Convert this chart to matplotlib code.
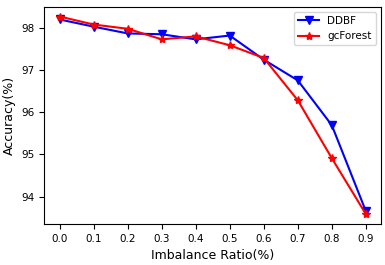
import matplotlib
matplotlib.use("Agg")
import matplotlib.pyplot as plt

ratio = [0.0, 0.1, 0.2, 0.3, 0.4, 0.5, 0.6, 0.7, 0.8, 0.9]
ddbf = [98.19, 98.02, 97.86, 97.84, 97.72, 97.81, 97.24, 96.75, 95.69, 93.66]
gcforest = [98.26, 98.07, 97.97, 97.72, 97.79, 97.58, 97.28, 96.28, 94.91, 93.59]

fig = plt.figure(figsize=(3.85, 2.65), dpi=100)
ax = fig.add_axes([0.115, 0.155, 0.875, 0.82])
ax.plot(ratio, ddbf, color="blue", marker="v", markersize=6, label="DDBF")
ax.plot(ratio, gcforest, color="red", marker="*", markersize=6, label="gcForest")
ax.set_xticks(ratio)
ax.set_xlabel("Imbalance Ratio(%)", fontsize=9)
ax.set_ylabel("Accuracy(%)", fontsize=9)
ax.tick_params(labelsize=7.5)
ax.legend(fontsize=7.5)
fig.savefig("out.png", dpi=100)
